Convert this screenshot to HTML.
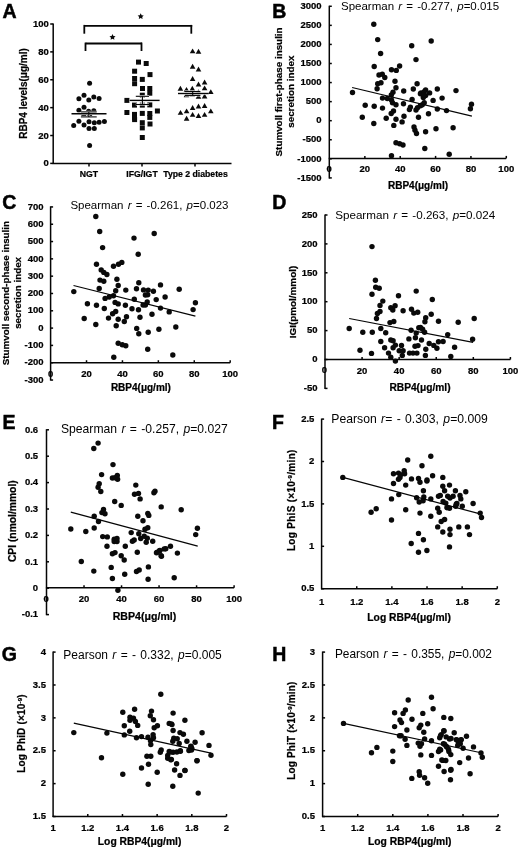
<!DOCTYPE html>
<html><head><meta charset="utf-8"><style>
html,body{margin:0;padding:0;background:#fff;}
svg{display:block;font-family:"Liberation Sans", sans-serif;filter:grayscale(100%);}
</style></head><body>
<svg width="520" height="850" viewBox="0 0 520 850">
<rect width="520" height="850" fill="#fff"/>
<g fill="#0a0a0a">
<text x="2.50" y="18.30" font-size="19.5" font-weight="bold" text-anchor="start" fill="#000" stroke="#000" stroke-width="0.5">A</text>
<line x1="53.20" y1="23.40" x2="53.20" y2="164.00" stroke="#050505" stroke-width="1.5"/>
<line x1="52.60" y1="163.40" x2="231.50" y2="163.40" stroke="#050505" stroke-width="1.5"/>
<line x1="50.20" y1="163.40" x2="53.20" y2="163.40" stroke="#050505" stroke-width="1.5"/>
<text x="48.80" y="166.40" font-size="9.5" font-weight="bold" text-anchor="end" fill="#000" stroke="#000" stroke-width="0.22">0</text>
<line x1="50.20" y1="135.52" x2="53.20" y2="135.52" stroke="#050505" stroke-width="1.5"/>
<text x="48.80" y="138.52" font-size="9.5" font-weight="bold" text-anchor="end" fill="#000" stroke="#000" stroke-width="0.22">20</text>
<line x1="50.20" y1="107.64" x2="53.20" y2="107.64" stroke="#050505" stroke-width="1.5"/>
<text x="48.80" y="110.64" font-size="9.5" font-weight="bold" text-anchor="end" fill="#000" stroke="#000" stroke-width="0.22">40</text>
<line x1="50.20" y1="79.76" x2="53.20" y2="79.76" stroke="#050505" stroke-width="1.5"/>
<text x="48.80" y="82.76" font-size="9.5" font-weight="bold" text-anchor="end" fill="#000" stroke="#000" stroke-width="0.22">60</text>
<line x1="50.20" y1="51.88" x2="53.20" y2="51.88" stroke="#050505" stroke-width="1.5"/>
<text x="48.80" y="54.88" font-size="9.5" font-weight="bold" text-anchor="end" fill="#000" stroke="#000" stroke-width="0.22">80</text>
<line x1="50.20" y1="24.00" x2="53.20" y2="24.00" stroke="#050505" stroke-width="1.5"/>
<text x="48.80" y="27.00" font-size="9.5" font-weight="bold" text-anchor="end" fill="#000" stroke="#000" stroke-width="0.22">100</text>
<line x1="89.00" y1="163.40" x2="89.00" y2="166.40" stroke="#050505" stroke-width="1.5"/>
<text x="89.00" y="176.60" font-size="8.7" font-weight="bold" text-anchor="middle" fill="#000" stroke="#000" stroke-width="0.22">NGT</text>
<line x1="142.00" y1="163.40" x2="142.00" y2="166.40" stroke="#050505" stroke-width="1.5"/>
<text x="142.00" y="176.60" font-size="8.7" font-weight="bold" text-anchor="middle" fill="#000" stroke="#000" stroke-width="0.22">IFG/IGT</text>
<line x1="195.00" y1="163.40" x2="195.00" y2="166.40" stroke="#050505" stroke-width="1.5"/>
<text x="195.50" y="176.60" font-size="8.7" font-weight="bold" text-anchor="middle" fill="#000" stroke="#000" stroke-width="0.22">Type 2 diabetes</text>
<text x="27.20" y="93.50" font-size="10.0" font-weight="bold" text-anchor="middle" fill="#000" transform="rotate(-90 27.20 93.50)" stroke="#000" stroke-width="0.22">RBP4 levels(μg/ml)</text>
<line x1="84.30" y1="25.80" x2="192.20" y2="25.80" stroke="#050505" stroke-width="1.8"/>
<line x1="84.30" y1="24.90" x2="84.30" y2="33.70" stroke="#050505" stroke-width="1.8"/>
<line x1="191.30" y1="24.90" x2="191.30" y2="33.70" stroke="#050505" stroke-width="1.8"/>
<line x1="85.50" y1="43.50" x2="142.00" y2="43.50" stroke="#050505" stroke-width="1.8"/>
<line x1="85.50" y1="42.60" x2="85.50" y2="51.00" stroke="#050505" stroke-width="1.8"/>
<line x1="141.50" y1="42.60" x2="141.50" y2="51.00" stroke="#050505" stroke-width="1.8"/>
<polygon points="140.70,13.30 141.64,15.21 143.74,15.51 142.22,16.99 142.58,19.09 140.70,18.10 138.82,19.09 139.18,16.99 137.66,15.51 139.76,15.21"/>
<polygon points="112.50,34.00 113.44,35.91 115.54,36.21 114.02,37.69 114.38,39.79 112.50,38.80 110.62,39.79 110.98,37.69 109.46,36.21 111.56,35.91"/>
<circle cx="84.0" cy="95.3" r="2.5"/>
<circle cx="78.9" cy="98.8" r="2.5"/>
<circle cx="88.8" cy="100.1" r="2.5"/>
<circle cx="93.8" cy="96.9" r="2.5"/>
<circle cx="99.1" cy="98.5" r="2.5"/>
<circle cx="84.0" cy="107.3" r="2.5"/>
<circle cx="78.9" cy="110.2" r="2.5"/>
<circle cx="88.6" cy="111.2" r="2.5"/>
<circle cx="93.8" cy="110.7" r="2.5"/>
<circle cx="83.8" cy="115.0" r="2.5"/>
<circle cx="89.6" cy="115.6" r="2.5"/>
<circle cx="78.9" cy="121.3" r="2.5"/>
<circle cx="89.0" cy="121.7" r="2.5"/>
<circle cx="94.3" cy="122.7" r="2.5"/>
<circle cx="99.1" cy="122.2" r="2.5"/>
<circle cx="104.4" cy="121.5" r="2.5"/>
<circle cx="73.7" cy="125.6" r="2.5"/>
<circle cx="84.0" cy="125.1" r="2.5"/>
<circle cx="89.0" cy="128.5" r="2.5"/>
<circle cx="94.3" cy="128.5" r="2.5"/>
<circle cx="89.6" cy="83.3" r="2.5"/>
<circle cx="89.6" cy="145.6" r="2.5"/>
<rect x="136.0" y="59.6" width="5" height="5"/>
<rect x="143.7" y="61.0" width="5" height="5"/>
<rect x="132.1" y="68.7" width="5" height="5"/>
<rect x="147.5" y="72.1" width="5" height="5"/>
<rect x="132.1" y="76.0" width="5" height="5"/>
<rect x="139.8" y="76.9" width="5" height="5"/>
<rect x="132.1" y="81.2" width="5" height="5"/>
<rect x="140.0" y="86.0" width="5" height="5"/>
<rect x="147.3" y="86.0" width="5" height="5"/>
<rect x="147.3" y="90.7" width="5" height="5"/>
<rect x="139.8" y="92.7" width="5" height="5"/>
<rect x="124.4" y="97.9" width="5" height="5"/>
<rect x="132.0" y="102.6" width="5" height="5"/>
<rect x="139.8" y="102.6" width="5" height="5"/>
<rect x="147.3" y="102.4" width="5" height="5"/>
<rect x="124.4" y="110.0" width="5" height="5"/>
<rect x="132.0" y="111.9" width="5" height="5"/>
<rect x="139.8" y="110.9" width="5" height="5"/>
<rect x="147.3" y="111.0" width="5" height="5"/>
<rect x="154.9" y="108.5" width="5" height="5"/>
<rect x="132.0" y="115.4" width="5" height="5"/>
<rect x="147.3" y="114.9" width="5" height="5"/>
<rect x="139.8" y="120.2" width="5" height="5"/>
<rect x="147.5" y="121.5" width="5" height="5"/>
<rect x="139.8" y="125.4" width="5" height="5"/>
<rect x="139.8" y="135.0" width="5" height="5"/>
<rect x="132.1" y="117.1" width="5" height="5"/>
<polygon points="192.6,48.4 195.4,53.3 189.8,53.3"/>
<polygon points="198.5,48.8 201.3,53.7 195.7,53.7"/>
<polygon points="192.6,63.8 195.4,68.7 189.8,68.7"/>
<polygon points="198.5,66.5 201.3,71.4 195.7,71.4"/>
<polygon points="192.6,76.1 195.4,81.0 189.8,81.0"/>
<polygon points="198.5,81.5 201.3,86.4 195.7,86.4"/>
<polygon points="204.6,79.6 207.4,84.5 201.8,84.5"/>
<polygon points="180.4,85.8 183.2,90.7 177.6,90.7"/>
<polygon points="186.5,86.9 189.3,91.8 183.7,91.8"/>
<polygon points="192.3,85.8 195.1,90.7 189.5,90.7"/>
<polygon points="204.6,85.4 207.4,90.3 201.8,90.3"/>
<polygon points="210.8,89.2 213.6,94.1 208.0,94.1"/>
<polygon points="186.5,92.3 189.3,97.2 183.7,97.2"/>
<polygon points="192.3,91.5 195.1,96.4 189.5,96.4"/>
<polygon points="198.5,89.2 201.3,94.1 195.7,94.1"/>
<polygon points="198.5,93.8 201.3,98.7 195.7,98.7"/>
<polygon points="204.6,93.5 207.4,98.4 201.8,98.4"/>
<polygon points="192.6,105.0 195.4,109.9 189.8,109.9"/>
<polygon points="198.5,103.5 201.3,108.4 195.7,108.4"/>
<polygon points="204.6,103.1 207.4,108.0 201.8,108.0"/>
<polygon points="180.5,109.9 183.3,114.8 177.7,114.8"/>
<polygon points="186.6,108.4 189.4,113.3 183.8,113.3"/>
<polygon points="210.8,108.4 213.6,113.3 208.0,113.3"/>
<polygon points="192.6,111.9 195.4,116.8 189.8,116.8"/>
<polygon points="198.5,113.0 201.3,117.9 195.7,117.9"/>
<polygon points="204.6,111.9 207.4,116.8 201.8,116.8"/>
<polygon points="186.6,115.8 189.4,120.7 183.8,120.7"/>
<line x1="71.50" y1="113.75" x2="106.50" y2="113.75" stroke="#fff" stroke-width="2.4"/>
<line x1="80.90" y1="111.90" x2="96.70" y2="111.90" stroke="#fff" stroke-width="2.1"/>
<line x1="80.90" y1="116.90" x2="96.70" y2="116.90" stroke="#fff" stroke-width="2.1"/>
<line x1="88.80" y1="111.90" x2="88.80" y2="116.90" stroke="#fff" stroke-width="2.1"/>
<line x1="71.50" y1="113.75" x2="106.50" y2="113.75" stroke="#050505" stroke-width="1.4"/>
<line x1="80.90" y1="111.90" x2="96.70" y2="111.90" stroke="#050505" stroke-width="1.1"/>
<line x1="80.90" y1="116.90" x2="96.70" y2="116.90" stroke="#050505" stroke-width="1.1"/>
<line x1="88.80" y1="111.90" x2="88.80" y2="116.90" stroke="#050505" stroke-width="1.1"/>
<line x1="129.60" y1="100.40" x2="159.60" y2="100.40" stroke="#fff" stroke-width="2.4"/>
<line x1="135.80" y1="96.30" x2="149.00" y2="96.30" stroke="#fff" stroke-width="2.1"/>
<line x1="135.80" y1="104.50" x2="149.00" y2="104.50" stroke="#fff" stroke-width="2.1"/>
<line x1="142.40" y1="96.30" x2="142.40" y2="104.50" stroke="#fff" stroke-width="2.1"/>
<line x1="129.60" y1="100.40" x2="159.60" y2="100.40" stroke="#050505" stroke-width="1.4"/>
<line x1="135.80" y1="96.30" x2="149.00" y2="96.30" stroke="#050505" stroke-width="1.1"/>
<line x1="135.80" y1="104.50" x2="149.00" y2="104.50" stroke="#050505" stroke-width="1.1"/>
<line x1="142.40" y1="96.30" x2="142.40" y2="104.50" stroke="#050505" stroke-width="1.1"/>
<line x1="178.00" y1="93.50" x2="208.80" y2="93.50" stroke="#fff" stroke-width="2.4"/>
<line x1="185.00" y1="91.50" x2="200.40" y2="91.50" stroke="#fff" stroke-width="2.1"/>
<line x1="185.00" y1="95.40" x2="200.40" y2="95.40" stroke="#fff" stroke-width="2.1"/>
<line x1="192.70" y1="91.50" x2="192.70" y2="95.40" stroke="#fff" stroke-width="2.1"/>
<line x1="178.00" y1="93.50" x2="208.80" y2="93.50" stroke="#050505" stroke-width="1.4"/>
<line x1="185.00" y1="91.50" x2="200.40" y2="91.50" stroke="#050505" stroke-width="1.1"/>
<line x1="185.00" y1="95.40" x2="200.40" y2="95.40" stroke="#050505" stroke-width="1.1"/>
<line x1="192.70" y1="91.50" x2="192.70" y2="95.40" stroke="#050505" stroke-width="1.1"/>
<text x="272.30" y="18.30" font-size="19.5" font-weight="bold" text-anchor="start" fill="#000" stroke="#000" stroke-width="0.5">B</text>
<line x1="329.30" y1="5.70" x2="329.30" y2="178.60" stroke="#050505" stroke-width="1.5"/>
<line x1="328.70" y1="158.40" x2="506.20" y2="158.40" stroke="#050505" stroke-width="1.5"/>
<line x1="329.30" y1="177.91" x2="331.80" y2="177.91" stroke="#050505" stroke-width="1.5"/>
<text x="321.60" y="180.61" font-size="9.5" font-weight="bold" text-anchor="end" fill="#000" stroke="#000" stroke-width="0.22">-1500</text>
<line x1="329.30" y1="158.84" x2="331.80" y2="158.84" stroke="#050505" stroke-width="1.5"/>
<text x="321.60" y="161.54" font-size="9.5" font-weight="bold" text-anchor="end" fill="#000" stroke="#000" stroke-width="0.22">-1000</text>
<line x1="329.30" y1="139.77" x2="331.80" y2="139.77" stroke="#050505" stroke-width="1.5"/>
<text x="321.60" y="142.47" font-size="9.5" font-weight="bold" text-anchor="end" fill="#000" stroke="#000" stroke-width="0.22">-500</text>
<line x1="329.30" y1="120.70" x2="331.80" y2="120.70" stroke="#050505" stroke-width="1.5"/>
<text x="321.60" y="123.40" font-size="9.5" font-weight="bold" text-anchor="end" fill="#000" stroke="#000" stroke-width="0.22">0</text>
<line x1="329.30" y1="101.63" x2="331.80" y2="101.63" stroke="#050505" stroke-width="1.5"/>
<text x="321.60" y="104.33" font-size="9.5" font-weight="bold" text-anchor="end" fill="#000" stroke="#000" stroke-width="0.22">500</text>
<line x1="329.30" y1="82.56" x2="331.80" y2="82.56" stroke="#050505" stroke-width="1.5"/>
<text x="321.60" y="85.26" font-size="9.5" font-weight="bold" text-anchor="end" fill="#000" stroke="#000" stroke-width="0.22">1000</text>
<line x1="329.30" y1="63.49" x2="331.80" y2="63.49" stroke="#050505" stroke-width="1.5"/>
<text x="321.60" y="66.19" font-size="9.5" font-weight="bold" text-anchor="end" fill="#000" stroke="#000" stroke-width="0.22">1500</text>
<line x1="329.30" y1="44.42" x2="331.80" y2="44.42" stroke="#050505" stroke-width="1.5"/>
<text x="321.60" y="47.12" font-size="9.5" font-weight="bold" text-anchor="end" fill="#000" stroke="#000" stroke-width="0.22">2000</text>
<line x1="329.30" y1="25.35" x2="331.80" y2="25.35" stroke="#050505" stroke-width="1.5"/>
<text x="321.60" y="28.05" font-size="9.5" font-weight="bold" text-anchor="end" fill="#000" stroke="#000" stroke-width="0.22">2500</text>
<line x1="329.30" y1="6.28" x2="331.80" y2="6.28" stroke="#050505" stroke-width="1.5"/>
<text x="321.60" y="8.98" font-size="9.5" font-weight="bold" text-anchor="end" fill="#000" stroke="#000" stroke-width="0.22">3000</text>
<line x1="364.86" y1="158.40" x2="364.86" y2="155.90" stroke="#050505" stroke-width="1.5"/>
<line x1="400.22" y1="158.40" x2="400.22" y2="155.90" stroke="#050505" stroke-width="1.5"/>
<line x1="435.58" y1="158.40" x2="435.58" y2="155.90" stroke="#050505" stroke-width="1.5"/>
<line x1="470.94" y1="158.40" x2="470.94" y2="155.90" stroke="#050505" stroke-width="1.5"/>
<line x1="506.30" y1="158.40" x2="506.30" y2="155.90" stroke="#050505" stroke-width="1.5"/>
<text x="364.86" y="172.20" font-size="9.5" font-weight="bold" text-anchor="middle" fill="#000" stroke="#000" stroke-width="0.22">20</text>
<text x="400.22" y="172.20" font-size="9.5" font-weight="bold" text-anchor="middle" fill="#000" stroke="#000" stroke-width="0.22">40</text>
<text x="435.58" y="172.20" font-size="9.5" font-weight="bold" text-anchor="middle" fill="#000" stroke="#000" stroke-width="0.22">60</text>
<text x="470.94" y="172.20" font-size="9.5" font-weight="bold" text-anchor="middle" fill="#000" stroke="#000" stroke-width="0.22">80</text>
<text x="506.30" y="172.20" font-size="9.5" font-weight="bold" text-anchor="middle" fill="#000" stroke="#000" stroke-width="0.22">100</text>
<circle cx="373.8" cy="24.2" r="2.7"/>
<circle cx="377.7" cy="39.6" r="2.7"/>
<circle cx="380.6" cy="53.5" r="2.7"/>
<circle cx="374.2" cy="66.5" r="2.7"/>
<circle cx="379.0" cy="75.0" r="2.7"/>
<circle cx="382.3" cy="74.2" r="2.7"/>
<circle cx="384.8" cy="77.5" r="2.7"/>
<circle cx="377.7" cy="83.8" r="2.7"/>
<circle cx="381.0" cy="82.7" r="2.7"/>
<circle cx="377.1" cy="88.7" r="2.7"/>
<circle cx="391.5" cy="69.8" r="2.7"/>
<circle cx="396.3" cy="70.4" r="2.7"/>
<circle cx="399.6" cy="66.0" r="2.7"/>
<circle cx="395.0" cy="81.3" r="2.7"/>
<circle cx="396.0" cy="87.7" r="2.7"/>
<circle cx="393.0" cy="92.3" r="2.7"/>
<circle cx="391.3" cy="95.0" r="2.7"/>
<circle cx="403.7" cy="91.0" r="2.7"/>
<circle cx="411.7" cy="45.8" r="2.7"/>
<circle cx="416.0" cy="59.6" r="2.7"/>
<circle cx="417.1" cy="83.8" r="2.7"/>
<circle cx="413.3" cy="89.0" r="2.7"/>
<circle cx="421.0" cy="92.9" r="2.7"/>
<circle cx="425.6" cy="90.0" r="2.7"/>
<circle cx="431.2" cy="41.0" r="2.7"/>
<circle cx="352.5" cy="92.5" r="2.7"/>
<circle cx="437.3" cy="89.0" r="2.7"/>
<circle cx="456.0" cy="90.6" r="2.7"/>
<circle cx="429.6" cy="92.9" r="2.7"/>
<circle cx="382.5" cy="98.1" r="2.7"/>
<circle cx="387.3" cy="98.5" r="2.7"/>
<circle cx="391.5" cy="100.0" r="2.7"/>
<circle cx="392.5" cy="102.7" r="2.7"/>
<circle cx="396.0" cy="104.8" r="2.7"/>
<circle cx="403.5" cy="103.8" r="2.7"/>
<circle cx="412.1" cy="99.4" r="2.7"/>
<circle cx="420.4" cy="93.7" r="2.7"/>
<circle cx="424.2" cy="91.7" r="2.7"/>
<circle cx="425.6" cy="95.6" r="2.7"/>
<circle cx="423.3" cy="97.5" r="2.7"/>
<circle cx="424.2" cy="102.7" r="2.7"/>
<circle cx="420.4" cy="105.8" r="2.7"/>
<circle cx="422.3" cy="104.8" r="2.7"/>
<circle cx="365.2" cy="105.2" r="2.7"/>
<circle cx="374.2" cy="106.2" r="2.7"/>
<circle cx="382.5" cy="108.1" r="2.7"/>
<circle cx="393.5" cy="111.0" r="2.7"/>
<circle cx="391.2" cy="113.5" r="2.7"/>
<circle cx="410.4" cy="107.1" r="2.7"/>
<circle cx="409.4" cy="109.6" r="2.7"/>
<circle cx="416.0" cy="110.0" r="2.7"/>
<circle cx="417.5" cy="107.7" r="2.7"/>
<circle cx="428.5" cy="113.8" r="2.7"/>
<circle cx="362.3" cy="117.3" r="2.7"/>
<circle cx="386.2" cy="118.3" r="2.7"/>
<circle cx="396.0" cy="119.2" r="2.7"/>
<circle cx="404.0" cy="116.3" r="2.7"/>
<circle cx="402.1" cy="121.9" r="2.7"/>
<circle cx="418.5" cy="117.3" r="2.7"/>
<circle cx="373.8" cy="123.5" r="2.7"/>
<circle cx="393.8" cy="125.4" r="2.7"/>
<circle cx="414.0" cy="126.9" r="2.7"/>
<circle cx="415.0" cy="130.2" r="2.7"/>
<circle cx="416.5" cy="133.5" r="2.7"/>
<circle cx="425.6" cy="131.7" r="2.7"/>
<circle cx="396.0" cy="142.7" r="2.7"/>
<circle cx="399.6" cy="143.7" r="2.7"/>
<circle cx="403.0" cy="145.0" r="2.7"/>
<circle cx="424.8" cy="148.5" r="2.7"/>
<circle cx="391.5" cy="155.8" r="2.7"/>
<circle cx="423.8" cy="94.6" r="2.7"/>
<circle cx="433.1" cy="100.4" r="2.7"/>
<circle cx="442.1" cy="98.1" r="2.7"/>
<circle cx="437.3" cy="109.0" r="2.7"/>
<circle cx="446.5" cy="110.6" r="2.7"/>
<circle cx="471.5" cy="104.2" r="2.7"/>
<circle cx="470.4" cy="108.7" r="2.7"/>
<circle cx="436.0" cy="128.8" r="2.7"/>
<circle cx="453.1" cy="127.7" r="2.7"/>
<circle cx="449.2" cy="154.2" r="2.7"/>
<line x1="352.10" y1="87.50" x2="471.90" y2="116.20" stroke="#050505" stroke-width="1.2"/>
<text x="341" y="10" font-size="11.5" fill="#000" word-spacing="1">Spearman <tspan font-style="italic">r</tspan> = -0.277, <tspan font-style="italic">p</tspan>=<tspan>0.015</tspan></text>
<text x="282.20" y="91.90" font-size="9.85" font-weight="bold" text-anchor="middle" fill="#000" transform="rotate(-90 282.20 91.90)" stroke="#000" stroke-width="0.22">Stumvoll first-phase insulin</text>
<text x="293.80" y="91.70" font-size="9.85" font-weight="bold" text-anchor="middle" fill="#000" transform="rotate(-90 293.80 91.70)" stroke="#000" stroke-width="0.22">secretion index</text>
<text x="418.00" y="189.20" font-size="10" font-weight="bold" text-anchor="middle" fill="#000" stroke="#000" stroke-width="0.22">RBP4(μg/ml)</text>
<text x="329.20" y="172.20" font-size="9.5" font-weight="bold" text-anchor="middle" fill="#000" stroke="#000" stroke-width="0.22">0</text>
<text x="2.30" y="208.80" font-size="19.5" font-weight="bold" text-anchor="start" fill="#000" stroke="#000" stroke-width="0.5">C</text>
<line x1="50.60" y1="206.30" x2="50.60" y2="380.60" stroke="#050505" stroke-width="1.5"/>
<line x1="50.00" y1="362.72" x2="230.20" y2="362.72" stroke="#050505" stroke-width="1.5"/>
<line x1="50.60" y1="380.03" x2="53.10" y2="380.03" stroke="#050505" stroke-width="1.5"/>
<text x="43.50" y="382.73" font-size="9.5" font-weight="bold" text-anchor="end" fill="#000" stroke="#000" stroke-width="0.22">-300</text>
<line x1="50.60" y1="362.72" x2="53.10" y2="362.72" stroke="#050505" stroke-width="1.5"/>
<text x="43.50" y="365.42" font-size="9.5" font-weight="bold" text-anchor="end" fill="#000" stroke="#000" stroke-width="0.22">-200</text>
<line x1="50.60" y1="345.41" x2="53.10" y2="345.41" stroke="#050505" stroke-width="1.5"/>
<text x="43.50" y="348.11" font-size="9.5" font-weight="bold" text-anchor="end" fill="#000" stroke="#000" stroke-width="0.22">-100</text>
<line x1="50.60" y1="328.10" x2="53.10" y2="328.10" stroke="#050505" stroke-width="1.5"/>
<text x="43.50" y="330.80" font-size="9.5" font-weight="bold" text-anchor="end" fill="#000" stroke="#000" stroke-width="0.22">0</text>
<line x1="50.60" y1="310.79" x2="53.10" y2="310.79" stroke="#050505" stroke-width="1.5"/>
<text x="43.50" y="313.49" font-size="9.5" font-weight="bold" text-anchor="end" fill="#000" stroke="#000" stroke-width="0.22">100</text>
<line x1="50.60" y1="293.48" x2="53.10" y2="293.48" stroke="#050505" stroke-width="1.5"/>
<text x="43.50" y="296.18" font-size="9.5" font-weight="bold" text-anchor="end" fill="#000" stroke="#000" stroke-width="0.22">200</text>
<line x1="50.60" y1="276.17" x2="53.10" y2="276.17" stroke="#050505" stroke-width="1.5"/>
<text x="43.50" y="278.87" font-size="9.5" font-weight="bold" text-anchor="end" fill="#000" stroke="#000" stroke-width="0.22">300</text>
<line x1="50.60" y1="258.86" x2="53.10" y2="258.86" stroke="#050505" stroke-width="1.5"/>
<text x="43.50" y="261.56" font-size="9.5" font-weight="bold" text-anchor="end" fill="#000" stroke="#000" stroke-width="0.22">400</text>
<line x1="50.60" y1="241.55" x2="53.10" y2="241.55" stroke="#050505" stroke-width="1.5"/>
<text x="43.50" y="244.25" font-size="9.5" font-weight="bold" text-anchor="end" fill="#000" stroke="#000" stroke-width="0.22">500</text>
<line x1="50.60" y1="224.24" x2="53.10" y2="224.24" stroke="#050505" stroke-width="1.5"/>
<text x="43.50" y="226.94" font-size="9.5" font-weight="bold" text-anchor="end" fill="#000" stroke="#000" stroke-width="0.22">600</text>
<line x1="50.60" y1="206.93" x2="53.10" y2="206.93" stroke="#050505" stroke-width="1.5"/>
<text x="43.50" y="209.63" font-size="9.5" font-weight="bold" text-anchor="end" fill="#000" stroke="#000" stroke-width="0.22">700</text>
<line x1="86.52" y1="362.72" x2="86.52" y2="360.22" stroke="#050505" stroke-width="1.5"/>
<line x1="122.44" y1="362.72" x2="122.44" y2="360.22" stroke="#050505" stroke-width="1.5"/>
<line x1="158.36" y1="362.72" x2="158.36" y2="360.22" stroke="#050505" stroke-width="1.5"/>
<line x1="194.28" y1="362.72" x2="194.28" y2="360.22" stroke="#050505" stroke-width="1.5"/>
<line x1="230.20" y1="362.72" x2="230.20" y2="360.22" stroke="#050505" stroke-width="1.5"/>
<text x="86.52" y="376.50" font-size="9.5" font-weight="bold" text-anchor="middle" fill="#000" stroke="#000" stroke-width="0.22">20</text>
<text x="122.44" y="376.50" font-size="9.5" font-weight="bold" text-anchor="middle" fill="#000" stroke="#000" stroke-width="0.22">40</text>
<text x="158.36" y="376.50" font-size="9.5" font-weight="bold" text-anchor="middle" fill="#000" stroke="#000" stroke-width="0.22">60</text>
<text x="194.28" y="376.50" font-size="9.5" font-weight="bold" text-anchor="middle" fill="#000" stroke="#000" stroke-width="0.22">80</text>
<text x="230.20" y="376.50" font-size="9.5" font-weight="bold" text-anchor="middle" fill="#000" stroke="#000" stroke-width="0.22">100</text>
<circle cx="95.8" cy="216.5" r="2.7"/>
<circle cx="99.7" cy="231.5" r="2.7"/>
<circle cx="102.6" cy="247.6" r="2.7"/>
<circle cx="134.0" cy="238.1" r="2.7"/>
<circle cx="138.2" cy="254.2" r="2.7"/>
<circle cx="96.5" cy="264.2" r="2.7"/>
<circle cx="113.5" cy="266.2" r="2.7"/>
<circle cx="118.5" cy="264.2" r="2.7"/>
<circle cx="121.8" cy="262.4" r="2.7"/>
<circle cx="101.2" cy="269.9" r="2.7"/>
<circle cx="103.8" cy="272.4" r="2.7"/>
<circle cx="106.9" cy="274.5" r="2.7"/>
<circle cx="100.0" cy="280.1" r="2.7"/>
<circle cx="103.8" cy="281.2" r="2.7"/>
<circle cx="116.9" cy="279.2" r="2.7"/>
<circle cx="118.2" cy="285.5" r="2.7"/>
<circle cx="138.8" cy="282.7" r="2.7"/>
<circle cx="154.2" cy="233.5" r="2.7"/>
<circle cx="160.5" cy="284.9" r="2.7"/>
<circle cx="99.2" cy="288.5" r="2.7"/>
<circle cx="73.8" cy="291.6" r="2.7"/>
<circle cx="115.7" cy="290.8" r="2.7"/>
<circle cx="125.8" cy="290.1" r="2.7"/>
<circle cx="136.5" cy="288.8" r="2.7"/>
<circle cx="113.5" cy="295.8" r="2.7"/>
<circle cx="109.2" cy="297.0" r="2.7"/>
<circle cx="105.1" cy="298.4" r="2.7"/>
<circle cx="134.3" cy="299.3" r="2.7"/>
<circle cx="87.4" cy="303.8" r="2.7"/>
<circle cx="96.5" cy="305.3" r="2.7"/>
<circle cx="115.1" cy="302.4" r="2.7"/>
<circle cx="118.2" cy="303.9" r="2.7"/>
<circle cx="125.4" cy="305.3" r="2.7"/>
<circle cx="104.3" cy="308.5" r="2.7"/>
<circle cx="132.0" cy="308.8" r="2.7"/>
<circle cx="138.5" cy="309.7" r="2.7"/>
<circle cx="115.7" cy="311.5" r="2.7"/>
<circle cx="112.6" cy="313.8" r="2.7"/>
<circle cx="84.2" cy="318.5" r="2.7"/>
<circle cx="108.5" cy="318.1" r="2.7"/>
<circle cx="118.2" cy="319.2" r="2.7"/>
<circle cx="126.5" cy="316.8" r="2.7"/>
<circle cx="124.3" cy="321.5" r="2.7"/>
<circle cx="140.0" cy="317.3" r="2.7"/>
<circle cx="95.8" cy="324.5" r="2.7"/>
<circle cx="116.2" cy="325.8" r="2.7"/>
<circle cx="136.7" cy="328.4" r="2.7"/>
<circle cx="138.8" cy="333.8" r="2.7"/>
<circle cx="118.2" cy="343.2" r="2.7"/>
<circle cx="122.3" cy="344.7" r="2.7"/>
<circle cx="125.8" cy="345.8" r="2.7"/>
<circle cx="113.8" cy="357.3" r="2.7"/>
<circle cx="143.5" cy="289.9" r="2.7"/>
<circle cx="148.2" cy="290.1" r="2.7"/>
<circle cx="153.4" cy="291.2" r="2.7"/>
<circle cx="179.2" cy="289.3" r="2.7"/>
<circle cx="145.4" cy="295.0" r="2.7"/>
<circle cx="147.7" cy="294.7" r="2.7"/>
<circle cx="165.1" cy="297.0" r="2.7"/>
<circle cx="156.2" cy="299.6" r="2.7"/>
<circle cx="147.2" cy="301.9" r="2.7"/>
<circle cx="143.1" cy="305.0" r="2.7"/>
<circle cx="145.4" cy="305.0" r="2.7"/>
<circle cx="195.4" cy="302.7" r="2.7"/>
<circle cx="160.5" cy="308.1" r="2.7"/>
<circle cx="169.2" cy="311.9" r="2.7"/>
<circle cx="193.1" cy="309.6" r="2.7"/>
<circle cx="152.0" cy="314.2" r="2.7"/>
<circle cx="148.2" cy="332.2" r="2.7"/>
<circle cx="158.9" cy="329.3" r="2.7"/>
<circle cx="175.8" cy="327.0" r="2.7"/>
<circle cx="147.7" cy="349.3" r="2.7"/>
<circle cx="172.8" cy="355.0" r="2.7"/>
<line x1="73.50" y1="285.50" x2="195.40" y2="316.20" stroke="#050505" stroke-width="1.2"/>
<text x="70.4" y="208.8" font-size="11.5" fill="#000" word-spacing="1">Spearman <tspan font-style="italic">r</tspan> = -0.261, <tspan font-style="italic">p</tspan>=<tspan>0.023</tspan></text>
<text x="9.00" y="293.10" font-size="9.8" font-weight="bold" text-anchor="middle" fill="#000" transform="rotate(-90 9.00 293.10)" stroke="#000" stroke-width="0.22">Stumvoll second-phase insulin</text>
<text x="21.00" y="292.90" font-size="9.8" font-weight="bold" text-anchor="middle" fill="#000" transform="rotate(-90 21.00 292.90)" stroke="#000" stroke-width="0.22">secretion index</text>
<text x="140.90" y="391.30" font-size="10" font-weight="bold" text-anchor="middle" fill="#000" stroke="#000" stroke-width="0.22">RBP4(μg/ml)</text>
<text x="50.60" y="376.50" font-size="9.5" font-weight="bold" text-anchor="middle" fill="#000" stroke="#000" stroke-width="0.22">0</text>
<text x="272.30" y="208.80" font-size="19.5" font-weight="bold" text-anchor="start" fill="#000" stroke="#000" stroke-width="0.5">D</text>
<line x1="325.00" y1="214.40" x2="325.00" y2="389.10" stroke="#050505" stroke-width="1.5"/>
<line x1="324.40" y1="359.50" x2="510.40" y2="359.50" stroke="#050505" stroke-width="1.5"/>
<line x1="325.00" y1="388.40" x2="327.50" y2="388.40" stroke="#050505" stroke-width="1.5"/>
<text x="317.60" y="391.10" font-size="9.5" font-weight="bold" text-anchor="end" fill="#000" stroke="#000" stroke-width="0.22">-50</text>
<line x1="325.00" y1="359.50" x2="327.50" y2="359.50" stroke="#050505" stroke-width="1.5"/>
<text x="317.60" y="362.20" font-size="9.5" font-weight="bold" text-anchor="end" fill="#000" stroke="#000" stroke-width="0.22">0</text>
<line x1="325.00" y1="330.60" x2="327.50" y2="330.60" stroke="#050505" stroke-width="1.5"/>
<text x="317.60" y="333.30" font-size="9.5" font-weight="bold" text-anchor="end" fill="#000" stroke="#000" stroke-width="0.22">50</text>
<line x1="325.00" y1="301.70" x2="327.50" y2="301.70" stroke="#050505" stroke-width="1.5"/>
<text x="317.60" y="304.40" font-size="9.5" font-weight="bold" text-anchor="end" fill="#000" stroke="#000" stroke-width="0.22">100</text>
<line x1="325.00" y1="272.80" x2="327.50" y2="272.80" stroke="#050505" stroke-width="1.5"/>
<text x="317.60" y="275.50" font-size="9.5" font-weight="bold" text-anchor="end" fill="#000" stroke="#000" stroke-width="0.22">150</text>
<line x1="325.00" y1="243.90" x2="327.50" y2="243.90" stroke="#050505" stroke-width="1.5"/>
<text x="317.60" y="246.60" font-size="9.5" font-weight="bold" text-anchor="end" fill="#000" stroke="#000" stroke-width="0.22">200</text>
<line x1="325.00" y1="215.00" x2="327.50" y2="215.00" stroke="#050505" stroke-width="1.5"/>
<text x="317.60" y="217.70" font-size="9.5" font-weight="bold" text-anchor="end" fill="#000" stroke="#000" stroke-width="0.22">250</text>
<line x1="362.08" y1="359.50" x2="362.08" y2="357.00" stroke="#050505" stroke-width="1.5"/>
<line x1="399.16" y1="359.50" x2="399.16" y2="357.00" stroke="#050505" stroke-width="1.5"/>
<line x1="436.24" y1="359.50" x2="436.24" y2="357.00" stroke="#050505" stroke-width="1.5"/>
<line x1="473.32" y1="359.50" x2="473.32" y2="357.00" stroke="#050505" stroke-width="1.5"/>
<line x1="510.40" y1="359.50" x2="510.40" y2="357.00" stroke="#050505" stroke-width="1.5"/>
<text x="362.08" y="373.50" font-size="9.5" font-weight="bold" text-anchor="middle" fill="#000" stroke="#000" stroke-width="0.22">20</text>
<text x="399.16" y="373.50" font-size="9.5" font-weight="bold" text-anchor="middle" fill="#000" stroke="#000" stroke-width="0.22">40</text>
<text x="436.24" y="373.50" font-size="9.5" font-weight="bold" text-anchor="middle" fill="#000" stroke="#000" stroke-width="0.22">60</text>
<text x="473.32" y="373.50" font-size="9.5" font-weight="bold" text-anchor="middle" fill="#000" stroke="#000" stroke-width="0.22">80</text>
<text x="510.40" y="373.50" font-size="9.5" font-weight="bold" text-anchor="middle" fill="#000" stroke="#000" stroke-width="0.22">100</text>
<circle cx="372.0" cy="246.6" r="2.7"/>
<circle cx="375.4" cy="280.3" r="2.7"/>
<circle cx="375.7" cy="287.2" r="2.7"/>
<circle cx="379.2" cy="288.2" r="2.7"/>
<circle cx="372.0" cy="294.3" r="2.7"/>
<circle cx="398.5" cy="295.8" r="2.7"/>
<circle cx="416.2" cy="291.1" r="2.7"/>
<circle cx="432.3" cy="299.5" r="2.7"/>
<circle cx="382.8" cy="301.1" r="2.7"/>
<circle cx="380.0" cy="305.4" r="2.7"/>
<circle cx="390.8" cy="307.7" r="2.7"/>
<circle cx="395.1" cy="305.8" r="2.7"/>
<circle cx="392.8" cy="310.0" r="2.7"/>
<circle cx="403.1" cy="310.8" r="2.7"/>
<circle cx="411.5" cy="309.2" r="2.7"/>
<circle cx="413.8" cy="313.1" r="2.7"/>
<circle cx="417.7" cy="312.3" r="2.7"/>
<circle cx="380.0" cy="311.5" r="2.7"/>
<circle cx="377.4" cy="313.5" r="2.7"/>
<circle cx="376.5" cy="318.5" r="2.7"/>
<circle cx="390.0" cy="322.6" r="2.7"/>
<circle cx="393.8" cy="321.5" r="2.7"/>
<circle cx="349.2" cy="328.5" r="2.7"/>
<circle cx="362.8" cy="332.3" r="2.7"/>
<circle cx="372.3" cy="332.3" r="2.7"/>
<circle cx="380.8" cy="328.5" r="2.7"/>
<circle cx="385.7" cy="332.8" r="2.7"/>
<circle cx="411.1" cy="330.3" r="2.7"/>
<circle cx="416.2" cy="333.1" r="2.7"/>
<circle cx="418.8" cy="327.7" r="2.7"/>
<circle cx="380.8" cy="341.5" r="2.7"/>
<circle cx="390.8" cy="340.0" r="2.7"/>
<circle cx="393.1" cy="340.8" r="2.7"/>
<circle cx="408.9" cy="338.9" r="2.7"/>
<circle cx="415.4" cy="337.7" r="2.7"/>
<circle cx="384.6" cy="347.7" r="2.7"/>
<circle cx="393.1" cy="347.7" r="2.7"/>
<circle cx="395.4" cy="345.1" r="2.7"/>
<circle cx="401.5" cy="345.4" r="2.7"/>
<circle cx="399.2" cy="350.8" r="2.7"/>
<circle cx="403.1" cy="350.8" r="2.7"/>
<circle cx="415.0" cy="346.2" r="2.7"/>
<circle cx="418.0" cy="345.6" r="2.7"/>
<circle cx="360.0" cy="350.3" r="2.7"/>
<circle cx="371.5" cy="353.4" r="2.7"/>
<circle cx="388.5" cy="353.1" r="2.7"/>
<circle cx="390.8" cy="357.2" r="2.7"/>
<circle cx="402.3" cy="355.4" r="2.7"/>
<circle cx="409.5" cy="353.1" r="2.7"/>
<circle cx="413.0" cy="353.1" r="2.7"/>
<circle cx="416.9" cy="353.1" r="2.7"/>
<circle cx="395.4" cy="361.1" r="2.7"/>
<circle cx="431.2" cy="314.2" r="2.7"/>
<circle cx="425.7" cy="317.7" r="2.7"/>
<circle cx="424.9" cy="321.8" r="2.7"/>
<circle cx="438.5" cy="321.2" r="2.7"/>
<circle cx="458.2" cy="322.3" r="2.7"/>
<circle cx="474.2" cy="318.5" r="2.7"/>
<circle cx="420.5" cy="327.4" r="2.7"/>
<circle cx="422.6" cy="329.2" r="2.7"/>
<circle cx="424.6" cy="332.3" r="2.7"/>
<circle cx="447.7" cy="334.6" r="2.7"/>
<circle cx="421.5" cy="340.0" r="2.7"/>
<circle cx="472.6" cy="339.2" r="2.7"/>
<circle cx="438.5" cy="341.8" r="2.7"/>
<circle cx="443.1" cy="341.5" r="2.7"/>
<circle cx="429.2" cy="343.5" r="2.7"/>
<circle cx="433.8" cy="345.4" r="2.7"/>
<circle cx="436.9" cy="348.2" r="2.7"/>
<circle cx="454.6" cy="347.2" r="2.7"/>
<circle cx="425.8" cy="349.2" r="2.7"/>
<circle cx="425.4" cy="355.4" r="2.7"/>
<circle cx="450.8" cy="356.5" r="2.7"/>
<line x1="349.20" y1="318.50" x2="473.10" y2="342.30" stroke="#050505" stroke-width="1.2"/>
<text x="335.2" y="219" font-size="11.65" fill="#000" word-spacing="1">Spearman <tspan font-style="italic">r</tspan> = -0.263, <tspan font-style="italic">p</tspan>=<tspan>0.024</tspan></text>
<text x="296.20" y="302.00" font-size="9.9" font-weight="bold" text-anchor="middle" fill="#000" transform="rotate(-90 296.20 302.00)" stroke="#000" stroke-width="0.22">IGI(pmol/mmol)</text>
<text x="420.00" y="390.80" font-size="10.2" font-weight="bold" text-anchor="middle" fill="#000" stroke="#000" stroke-width="0.22">RBP4(μg/ml)</text>
<text x="324.40" y="372.50" font-size="9.5" font-weight="bold" text-anchor="middle" fill="#000" stroke="#000" stroke-width="0.22">0</text>
<text x="2.40" y="429.20" font-size="19.5" font-weight="bold" text-anchor="start" fill="#000" stroke="#000" stroke-width="0.5">E</text>
<line x1="46.50" y1="429.20" x2="46.50" y2="615.20" stroke="#050505" stroke-width="1.5"/>
<line x1="45.90" y1="587.80" x2="234.10" y2="587.80" stroke="#050505" stroke-width="1.5"/>
<line x1="46.50" y1="614.60" x2="49.00" y2="614.60" stroke="#050505" stroke-width="1.5"/>
<text x="38.10" y="617.30" font-size="9.5" font-weight="bold" text-anchor="end" fill="#000" stroke="#000" stroke-width="0.22">-0.1</text>
<line x1="46.50" y1="588.20" x2="49.00" y2="588.20" stroke="#050505" stroke-width="1.5"/>
<text x="38.10" y="590.90" font-size="9.5" font-weight="bold" text-anchor="end" fill="#000" stroke="#000" stroke-width="0.22">0</text>
<line x1="46.50" y1="561.80" x2="49.00" y2="561.80" stroke="#050505" stroke-width="1.5"/>
<text x="38.10" y="564.50" font-size="9.5" font-weight="bold" text-anchor="end" fill="#000" stroke="#000" stroke-width="0.22">0.1</text>
<line x1="46.50" y1="535.40" x2="49.00" y2="535.40" stroke="#050505" stroke-width="1.5"/>
<text x="38.10" y="538.10" font-size="9.5" font-weight="bold" text-anchor="end" fill="#000" stroke="#000" stroke-width="0.22">0.2</text>
<line x1="46.50" y1="509.00" x2="49.00" y2="509.00" stroke="#050505" stroke-width="1.5"/>
<text x="38.10" y="511.70" font-size="9.5" font-weight="bold" text-anchor="end" fill="#000" stroke="#000" stroke-width="0.22">0.3</text>
<line x1="46.50" y1="482.60" x2="49.00" y2="482.60" stroke="#050505" stroke-width="1.5"/>
<text x="38.10" y="485.30" font-size="9.5" font-weight="bold" text-anchor="end" fill="#000" stroke="#000" stroke-width="0.22">0.4</text>
<line x1="46.50" y1="456.20" x2="49.00" y2="456.20" stroke="#050505" stroke-width="1.5"/>
<text x="38.10" y="458.90" font-size="9.5" font-weight="bold" text-anchor="end" fill="#000" stroke="#000" stroke-width="0.22">0.5</text>
<line x1="46.50" y1="429.80" x2="49.00" y2="429.80" stroke="#050505" stroke-width="1.5"/>
<text x="38.10" y="432.50" font-size="9.5" font-weight="bold" text-anchor="end" fill="#000" stroke="#000" stroke-width="0.22">0.6</text>
<line x1="84.02" y1="587.80" x2="84.02" y2="585.30" stroke="#050505" stroke-width="1.5"/>
<line x1="121.54" y1="587.80" x2="121.54" y2="585.30" stroke="#050505" stroke-width="1.5"/>
<line x1="159.06" y1="587.80" x2="159.06" y2="585.30" stroke="#050505" stroke-width="1.5"/>
<line x1="196.58" y1="587.80" x2="196.58" y2="585.30" stroke="#050505" stroke-width="1.5"/>
<line x1="234.10" y1="587.80" x2="234.10" y2="585.30" stroke="#050505" stroke-width="1.5"/>
<text x="84.02" y="602.30" font-size="9.5" font-weight="bold" text-anchor="middle" fill="#000" stroke="#000" stroke-width="0.22">20</text>
<text x="121.54" y="602.30" font-size="9.5" font-weight="bold" text-anchor="middle" fill="#000" stroke="#000" stroke-width="0.22">40</text>
<text x="159.06" y="602.30" font-size="9.5" font-weight="bold" text-anchor="middle" fill="#000" stroke="#000" stroke-width="0.22">60</text>
<text x="196.58" y="602.30" font-size="9.5" font-weight="bold" text-anchor="middle" fill="#000" stroke="#000" stroke-width="0.22">80</text>
<text x="234.10" y="602.30" font-size="9.5" font-weight="bold" text-anchor="middle" fill="#000" stroke="#000" stroke-width="0.22">100</text>
<circle cx="98.1" cy="443.1" r="2.7"/>
<circle cx="93.8" cy="448.5" r="2.7"/>
<circle cx="113.0" cy="464.6" r="2.7"/>
<circle cx="101.6" cy="474.6" r="2.7"/>
<circle cx="117.3" cy="475.4" r="2.7"/>
<circle cx="112.4" cy="478.0" r="2.7"/>
<circle cx="117.6" cy="479.2" r="2.7"/>
<circle cx="115.0" cy="477.7" r="2.7"/>
<circle cx="99.2" cy="483.8" r="2.7"/>
<circle cx="98.1" cy="487.2" r="2.7"/>
<circle cx="100.8" cy="491.5" r="2.7"/>
<circle cx="135.8" cy="485.1" r="2.7"/>
<circle cx="134.5" cy="494.3" r="2.7"/>
<circle cx="138.5" cy="493.4" r="2.7"/>
<circle cx="140.1" cy="498.9" r="2.7"/>
<circle cx="153.9" cy="492.8" r="2.7"/>
<circle cx="155.0" cy="491.2" r="2.7"/>
<circle cx="114.7" cy="501.5" r="2.7"/>
<circle cx="121.2" cy="505.4" r="2.7"/>
<circle cx="161.2" cy="506.9" r="2.7"/>
<circle cx="103.5" cy="509.5" r="2.7"/>
<circle cx="101.9" cy="512.6" r="2.7"/>
<circle cx="105.0" cy="513.8" r="2.7"/>
<circle cx="94.2" cy="516.2" r="2.7"/>
<circle cx="98.5" cy="521.5" r="2.7"/>
<circle cx="137.8" cy="516.2" r="2.7"/>
<circle cx="147.8" cy="513.5" r="2.7"/>
<circle cx="148.8" cy="515.4" r="2.7"/>
<circle cx="143.0" cy="520.8" r="2.7"/>
<circle cx="94.2" cy="528.0" r="2.7"/>
<circle cx="85.8" cy="531.5" r="2.7"/>
<circle cx="145.0" cy="529.2" r="2.7"/>
<circle cx="147.8" cy="527.7" r="2.7"/>
<circle cx="131.2" cy="532.6" r="2.7"/>
<circle cx="138.8" cy="533.8" r="2.7"/>
<circle cx="102.7" cy="536.6" r="2.7"/>
<circle cx="107.3" cy="536.9" r="2.7"/>
<circle cx="114.2" cy="539.2" r="2.7"/>
<circle cx="117.0" cy="538.5" r="2.7"/>
<circle cx="114.2" cy="541.5" r="2.7"/>
<circle cx="117.0" cy="541.5" r="2.7"/>
<circle cx="144.2" cy="536.2" r="2.7"/>
<circle cx="140.7" cy="538.5" r="2.7"/>
<circle cx="147.3" cy="538.2" r="2.7"/>
<circle cx="146.2" cy="542.3" r="2.7"/>
<circle cx="152.7" cy="541.2" r="2.7"/>
<circle cx="132.4" cy="541.2" r="2.7"/>
<circle cx="134.2" cy="540.0" r="2.7"/>
<circle cx="107.0" cy="546.2" r="2.7"/>
<circle cx="125.3" cy="546.2" r="2.7"/>
<circle cx="157.3" cy="552.3" r="2.7"/>
<circle cx="159.9" cy="550.5" r="2.7"/>
<circle cx="161.5" cy="556.2" r="2.7"/>
<circle cx="164.2" cy="548.9" r="2.7"/>
<circle cx="112.4" cy="553.8" r="2.7"/>
<circle cx="115.0" cy="552.6" r="2.7"/>
<circle cx="121.2" cy="555.7" r="2.7"/>
<circle cx="124.2" cy="560.0" r="2.7"/>
<circle cx="137.3" cy="552.3" r="2.7"/>
<circle cx="93.8" cy="571.1" r="2.7"/>
<circle cx="111.2" cy="567.4" r="2.7"/>
<circle cx="136.5" cy="571.5" r="2.7"/>
<circle cx="139.2" cy="570.0" r="2.7"/>
<circle cx="148.4" cy="566.9" r="2.7"/>
<circle cx="112.4" cy="578.5" r="2.7"/>
<circle cx="124.7" cy="574.2" r="2.7"/>
<circle cx="148.1" cy="579.2" r="2.7"/>
<circle cx="70.8" cy="529.0" r="2.7"/>
<circle cx="81.3" cy="561.5" r="2.7"/>
<circle cx="117.9" cy="590.2" r="2.7"/>
<circle cx="174.2" cy="577.8" r="2.7"/>
<circle cx="181.2" cy="509.7" r="2.7"/>
<circle cx="197.4" cy="528.2" r="2.7"/>
<circle cx="195.7" cy="534.6" r="2.7"/>
<circle cx="170.5" cy="546.2" r="2.7"/>
<circle cx="165.8" cy="548.8" r="2.7"/>
<circle cx="159.5" cy="550.8" r="2.7"/>
<circle cx="156.5" cy="552.8" r="2.7"/>
<circle cx="161.1" cy="555.8" r="2.7"/>
<circle cx="177.4" cy="553.1" r="2.7"/>
<line x1="70.80" y1="512.10" x2="197.70" y2="546.20" stroke="#050505" stroke-width="1.2"/>
<text x="61.0" y="433.2" font-size="12.15" fill="#000" word-spacing="1">Spearman <tspan font-style="italic">r</tspan> = -0.257, <tspan font-style="italic">p</tspan>=<tspan>0.027</tspan></text>
<text x="16.20" y="521.20" font-size="10.3" font-weight="bold" text-anchor="middle" fill="#000" transform="rotate(-90 16.20 521.20)" stroke="#000" stroke-width="0.22">CPI (nmol/mmol)</text>
<text x="144.50" y="619.80" font-size="10.6" font-weight="bold" text-anchor="middle" fill="#000" stroke="#000" stroke-width="0.22">RBP4(μg/ml)</text>
<text x="46.20" y="602.30" font-size="9.5" font-weight="bold" text-anchor="middle" fill="#000" stroke="#000" stroke-width="0.22">0</text>
<text x="272.00" y="428.80" font-size="19.5" font-weight="bold" text-anchor="start" fill="#000" stroke="#000" stroke-width="0.5">F</text>
<line x1="321.60" y1="418.60" x2="321.60" y2="589.30" stroke="#050505" stroke-width="1.5"/>
<line x1="321.00" y1="588.70" x2="497.30" y2="588.70" stroke="#050505" stroke-width="1.5"/>
<line x1="321.60" y1="588.70" x2="324.10" y2="588.70" stroke="#050505" stroke-width="1.5"/>
<text x="314.40" y="591.40" font-size="9.5" font-weight="bold" text-anchor="end" fill="#000" stroke="#000" stroke-width="0.22">0.5</text>
<line x1="321.60" y1="546.30" x2="324.10" y2="546.30" stroke="#050505" stroke-width="1.5"/>
<text x="314.40" y="549.00" font-size="9.5" font-weight="bold" text-anchor="end" fill="#000" stroke="#000" stroke-width="0.22">1</text>
<line x1="321.60" y1="503.90" x2="324.10" y2="503.90" stroke="#050505" stroke-width="1.5"/>
<text x="314.40" y="506.60" font-size="9.5" font-weight="bold" text-anchor="end" fill="#000" stroke="#000" stroke-width="0.22">1.5</text>
<line x1="321.60" y1="461.50" x2="324.10" y2="461.50" stroke="#050505" stroke-width="1.5"/>
<text x="314.40" y="464.20" font-size="9.5" font-weight="bold" text-anchor="end" fill="#000" stroke="#000" stroke-width="0.22">2</text>
<line x1="321.60" y1="419.10" x2="324.10" y2="419.10" stroke="#050505" stroke-width="1.5"/>
<text x="314.40" y="421.80" font-size="9.5" font-weight="bold" text-anchor="end" fill="#000" stroke="#000" stroke-width="0.22">2.5</text>
<line x1="356.74" y1="588.70" x2="356.74" y2="586.20" stroke="#050505" stroke-width="1.5"/>
<line x1="391.88" y1="588.70" x2="391.88" y2="586.20" stroke="#050505" stroke-width="1.5"/>
<line x1="427.02" y1="588.70" x2="427.02" y2="586.20" stroke="#050505" stroke-width="1.5"/>
<line x1="462.16" y1="588.70" x2="462.16" y2="586.20" stroke="#050505" stroke-width="1.5"/>
<line x1="497.30" y1="588.70" x2="497.30" y2="586.20" stroke="#050505" stroke-width="1.5"/>
<text x="321.60" y="604.60" font-size="9.5" font-weight="bold" text-anchor="middle" fill="#000" stroke="#000" stroke-width="0.22">1</text>
<text x="356.74" y="604.60" font-size="9.5" font-weight="bold" text-anchor="middle" fill="#000" stroke="#000" stroke-width="0.22">1.2</text>
<text x="391.88" y="604.60" font-size="9.5" font-weight="bold" text-anchor="middle" fill="#000" stroke="#000" stroke-width="0.22">1.4</text>
<text x="427.02" y="604.60" font-size="9.5" font-weight="bold" text-anchor="middle" fill="#000" stroke="#000" stroke-width="0.22">1.6</text>
<text x="462.16" y="604.60" font-size="9.5" font-weight="bold" text-anchor="middle" fill="#000" stroke="#000" stroke-width="0.22">1.8</text>
<text x="497.30" y="604.60" font-size="9.5" font-weight="bold" text-anchor="middle" fill="#000" stroke="#000" stroke-width="0.22">2</text>
<circle cx="342.8" cy="477.4" r="2.7"/>
<circle cx="407.7" cy="460.0" r="2.7"/>
<circle cx="393.5" cy="473.8" r="2.7"/>
<circle cx="398.5" cy="473.1" r="2.7"/>
<circle cx="400.8" cy="474.6" r="2.7"/>
<circle cx="404.2" cy="470.8" r="2.7"/>
<circle cx="404.6" cy="473.8" r="2.7"/>
<circle cx="400.0" cy="477.4" r="2.7"/>
<circle cx="398.5" cy="479.2" r="2.7"/>
<circle cx="393.5" cy="483.5" r="2.7"/>
<circle cx="405.7" cy="485.1" r="2.7"/>
<circle cx="398.8" cy="494.6" r="2.7"/>
<circle cx="391.5" cy="498.9" r="2.7"/>
<circle cx="376.2" cy="508.8" r="2.7"/>
<circle cx="371.1" cy="512.3" r="2.7"/>
<circle cx="405.7" cy="509.7" r="2.7"/>
<circle cx="391.5" cy="520.0" r="2.7"/>
<circle cx="430.8" cy="456.2" r="2.7"/>
<circle cx="422.0" cy="465.8" r="2.7"/>
<circle cx="411.5" cy="478.9" r="2.7"/>
<circle cx="418.5" cy="478.5" r="2.7"/>
<circle cx="420.0" cy="482.3" r="2.7"/>
<circle cx="426.9" cy="481.1" r="2.7"/>
<circle cx="432.6" cy="475.8" r="2.7"/>
<circle cx="442.8" cy="477.4" r="2.7"/>
<circle cx="442.8" cy="486.2" r="2.7"/>
<circle cx="449.5" cy="485.1" r="2.7"/>
<circle cx="423.4" cy="490.8" r="2.7"/>
<circle cx="444.6" cy="490.8" r="2.7"/>
<circle cx="455.4" cy="490.8" r="2.7"/>
<circle cx="465.8" cy="491.8" r="2.7"/>
<circle cx="440.3" cy="495.4" r="2.7"/>
<circle cx="438.5" cy="496.2" r="2.7"/>
<circle cx="447.7" cy="496.2" r="2.7"/>
<circle cx="453.1" cy="496.2" r="2.7"/>
<circle cx="460.0" cy="495.4" r="2.7"/>
<circle cx="460.8" cy="498.9" r="2.7"/>
<circle cx="450.0" cy="498.0" r="2.7"/>
<circle cx="416.6" cy="497.7" r="2.7"/>
<circle cx="423.8" cy="496.9" r="2.7"/>
<circle cx="430.8" cy="498.9" r="2.7"/>
<circle cx="419.2" cy="502.0" r="2.7"/>
<circle cx="423.1" cy="500.8" r="2.7"/>
<circle cx="443.1" cy="501.5" r="2.7"/>
<circle cx="445.8" cy="503.1" r="2.7"/>
<circle cx="456.9" cy="503.5" r="2.7"/>
<circle cx="455.7" cy="506.2" r="2.7"/>
<circle cx="462.3" cy="506.2" r="2.7"/>
<circle cx="473.1" cy="503.5" r="2.7"/>
<circle cx="446.9" cy="507.7" r="2.7"/>
<circle cx="449.5" cy="508.2" r="2.7"/>
<circle cx="437.7" cy="508.2" r="2.7"/>
<circle cx="439.2" cy="512.3" r="2.7"/>
<circle cx="420.0" cy="513.1" r="2.7"/>
<circle cx="430.8" cy="516.2" r="2.7"/>
<circle cx="480.2" cy="513.1" r="2.7"/>
<circle cx="444.6" cy="519.5" r="2.7"/>
<circle cx="441.2" cy="521.5" r="2.7"/>
<circle cx="437.7" cy="526.9" r="2.7"/>
<circle cx="458.8" cy="526.9" r="2.7"/>
<circle cx="467.4" cy="526.9" r="2.7"/>
<circle cx="450.0" cy="529.2" r="2.7"/>
<circle cx="442.8" cy="532.0" r="2.7"/>
<circle cx="450.0" cy="534.6" r="2.7"/>
<circle cx="469.5" cy="534.6" r="2.7"/>
<circle cx="418.5" cy="533.4" r="2.7"/>
<circle cx="423.4" cy="539.7" r="2.7"/>
<circle cx="411.2" cy="543.5" r="2.7"/>
<circle cx="418.5" cy="552.3" r="2.7"/>
<circle cx="426.9" cy="550.5" r="2.7"/>
<circle cx="449.5" cy="546.9" r="2.7"/>
<circle cx="481.5" cy="517.5" r="2.7"/>
<circle cx="427.0" cy="480.0" r="2.7"/>
<circle cx="456.2" cy="504.2" r="2.7"/>
<line x1="342.80" y1="477.40" x2="479.20" y2="513.70" stroke="#050505" stroke-width="1.2"/>
<text x="331.3" y="423.4" font-size="12.2" fill="#000" word-spacing="1">Pearson <tspan font-style="italic">r</tspan>= - 0.303, <tspan font-style="italic">p</tspan>=<tspan>0.009</tspan></text>
<text x="409.10" y="620.60" font-size="10.3" font-weight="bold" text-anchor="middle" fill="#000" stroke="#000" stroke-width="0.22">Log RBP4(μg/ml)</text>
<text x="1.80" y="661.20" font-size="19.5" font-weight="bold" text-anchor="start" fill="#000" stroke="#000" stroke-width="0.5">G</text>
<line x1="53.10" y1="651.50" x2="53.10" y2="817.10" stroke="#050505" stroke-width="1.5"/>
<line x1="52.50" y1="816.50" x2="226.50" y2="816.50" stroke="#050505" stroke-width="1.5"/>
<line x1="53.10" y1="816.50" x2="55.60" y2="816.50" stroke="#050505" stroke-width="1.5"/>
<text x="46.00" y="819.20" font-size="9.5" font-weight="bold" text-anchor="end" fill="#000" stroke="#000" stroke-width="0.22">1.5</text>
<line x1="53.10" y1="783.62" x2="55.60" y2="783.62" stroke="#050505" stroke-width="1.5"/>
<text x="46.00" y="786.32" font-size="9.5" font-weight="bold" text-anchor="end" fill="#000" stroke="#000" stroke-width="0.22">2</text>
<line x1="53.10" y1="750.74" x2="55.60" y2="750.74" stroke="#050505" stroke-width="1.5"/>
<text x="46.00" y="753.44" font-size="9.5" font-weight="bold" text-anchor="end" fill="#000" stroke="#000" stroke-width="0.22">2.5</text>
<line x1="53.10" y1="717.86" x2="55.60" y2="717.86" stroke="#050505" stroke-width="1.5"/>
<text x="46.00" y="720.56" font-size="9.5" font-weight="bold" text-anchor="end" fill="#000" stroke="#000" stroke-width="0.22">3</text>
<line x1="53.10" y1="684.98" x2="55.60" y2="684.98" stroke="#050505" stroke-width="1.5"/>
<text x="46.00" y="687.68" font-size="9.5" font-weight="bold" text-anchor="end" fill="#000" stroke="#000" stroke-width="0.22">3.5</text>
<line x1="53.10" y1="652.10" x2="55.60" y2="652.10" stroke="#050505" stroke-width="1.5"/>
<text x="46.00" y="654.80" font-size="9.5" font-weight="bold" text-anchor="end" fill="#000" stroke="#000" stroke-width="0.22">4</text>
<line x1="87.78" y1="816.50" x2="87.78" y2="814.00" stroke="#050505" stroke-width="1.5"/>
<line x1="122.46" y1="816.50" x2="122.46" y2="814.00" stroke="#050505" stroke-width="1.5"/>
<line x1="157.14" y1="816.50" x2="157.14" y2="814.00" stroke="#050505" stroke-width="1.5"/>
<line x1="191.82" y1="816.50" x2="191.82" y2="814.00" stroke="#050505" stroke-width="1.5"/>
<line x1="226.50" y1="816.50" x2="226.50" y2="814.00" stroke="#050505" stroke-width="1.5"/>
<text x="53.10" y="831.00" font-size="9.5" font-weight="bold" text-anchor="middle" fill="#000" stroke="#000" stroke-width="0.22">1</text>
<text x="87.78" y="831.00" font-size="9.5" font-weight="bold" text-anchor="middle" fill="#000" stroke="#000" stroke-width="0.22">1.2</text>
<text x="122.46" y="831.00" font-size="9.5" font-weight="bold" text-anchor="middle" fill="#000" stroke="#000" stroke-width="0.22">1.4</text>
<text x="157.14" y="831.00" font-size="9.5" font-weight="bold" text-anchor="middle" fill="#000" stroke="#000" stroke-width="0.22">1.6</text>
<text x="191.82" y="831.00" font-size="9.5" font-weight="bold" text-anchor="middle" fill="#000" stroke="#000" stroke-width="0.22">1.8</text>
<text x="226.50" y="831.00" font-size="9.5" font-weight="bold" text-anchor="middle" fill="#000" stroke="#000" stroke-width="0.22">2</text>
<circle cx="73.8" cy="732.6" r="2.7"/>
<circle cx="106.9" cy="733.1" r="2.7"/>
<circle cx="122.8" cy="712.3" r="2.7"/>
<circle cx="134.6" cy="709.2" r="2.7"/>
<circle cx="130.0" cy="717.2" r="2.7"/>
<circle cx="133.5" cy="718.2" r="2.7"/>
<circle cx="130.0" cy="720.3" r="2.7"/>
<circle cx="135.4" cy="721.5" r="2.7"/>
<circle cx="137.7" cy="725.4" r="2.7"/>
<circle cx="124.3" cy="725.8" r="2.7"/>
<circle cx="129.7" cy="731.2" r="2.7"/>
<circle cx="124.3" cy="734.9" r="2.7"/>
<circle cx="136.5" cy="737.7" r="2.7"/>
<circle cx="101.5" cy="757.7" r="2.7"/>
<circle cx="160.8" cy="694.2" r="2.7"/>
<circle cx="151.5" cy="711.1" r="2.7"/>
<circle cx="150.3" cy="715.7" r="2.7"/>
<circle cx="153.5" cy="719.7" r="2.7"/>
<circle cx="141.5" cy="736.6" r="2.7"/>
<circle cx="148.0" cy="737.2" r="2.7"/>
<circle cx="153.1" cy="734.6" r="2.7"/>
<circle cx="153.5" cy="737.7" r="2.7"/>
<circle cx="150.5" cy="740.8" r="2.7"/>
<circle cx="150.8" cy="744.6" r="2.7"/>
<circle cx="154.2" cy="727.7" r="2.7"/>
<circle cx="157.4" cy="725.8" r="2.7"/>
<circle cx="173.1" cy="713.1" r="2.7"/>
<circle cx="184.9" cy="720.3" r="2.7"/>
<circle cx="169.2" cy="723.4" r="2.7"/>
<circle cx="172.0" cy="724.6" r="2.7"/>
<circle cx="173.1" cy="730.5" r="2.7"/>
<circle cx="180.0" cy="732.6" r="2.7"/>
<circle cx="183.4" cy="734.2" r="2.7"/>
<circle cx="173.8" cy="738.2" r="2.7"/>
<circle cx="177.2" cy="738.8" r="2.7"/>
<circle cx="172.8" cy="741.2" r="2.7"/>
<circle cx="179.2" cy="743.4" r="2.7"/>
<circle cx="186.9" cy="741.2" r="2.7"/>
<circle cx="195.1" cy="742.3" r="2.7"/>
<circle cx="190.8" cy="746.2" r="2.7"/>
<circle cx="188.9" cy="750.5" r="2.7"/>
<circle cx="191.5" cy="750.0" r="2.7"/>
<circle cx="161.2" cy="750.0" r="2.7"/>
<circle cx="160.3" cy="752.3" r="2.7"/>
<circle cx="169.2" cy="751.5" r="2.7"/>
<circle cx="173.1" cy="752.3" r="2.7"/>
<circle cx="176.9" cy="752.0" r="2.7"/>
<circle cx="180.3" cy="750.8" r="2.7"/>
<circle cx="167.7" cy="755.4" r="2.7"/>
<circle cx="146.9" cy="756.2" r="2.7"/>
<circle cx="150.8" cy="756.2" r="2.7"/>
<circle cx="167.7" cy="758.2" r="2.7"/>
<circle cx="170.8" cy="759.7" r="2.7"/>
<circle cx="148.5" cy="764.2" r="2.7"/>
<circle cx="141.5" cy="768.0" r="2.7"/>
<circle cx="122.8" cy="774.2" r="2.7"/>
<circle cx="157.2" cy="772.3" r="2.7"/>
<circle cx="176.6" cy="763.8" r="2.7"/>
<circle cx="174.6" cy="770.0" r="2.7"/>
<circle cx="184.9" cy="770.5" r="2.7"/>
<circle cx="180.0" cy="775.4" r="2.7"/>
<circle cx="196.9" cy="760.8" r="2.7"/>
<circle cx="148.2" cy="784.3" r="2.7"/>
<circle cx="172.8" cy="786.2" r="2.7"/>
<circle cx="198.2" cy="793.1" r="2.7"/>
<circle cx="191.1" cy="746.9" r="2.7"/>
<circle cx="202.1" cy="732.7" r="2.7"/>
<circle cx="209.0" cy="745.4" r="2.7"/>
<circle cx="191.9" cy="748.8" r="2.7"/>
<circle cx="211.0" cy="755.2" r="2.7"/>
<circle cx="171.4" cy="759.5" r="2.7"/>
<circle cx="197.1" cy="760.6" r="2.7"/>
<circle cx="185.0" cy="770.4" r="2.7"/>
<circle cx="171.4" cy="724.0" r="2.7"/>
<circle cx="170.6" cy="752.1" r="2.7"/>
<circle cx="180.4" cy="751.2" r="2.7"/>
<line x1="73.80" y1="723.10" x2="211.00" y2="753.20" stroke="#050505" stroke-width="1.2"/>
<text x="63.3" y="658.7" font-size="12" fill="#000" word-spacing="1">Pearson <tspan font-style="italic">r</tspan> = - 0.332, <tspan font-style="italic">p</tspan>=<tspan>0.005</tspan></text>
<text x="139.60" y="845.40" font-size="10.3" font-weight="bold" text-anchor="middle" fill="#000" stroke="#000" stroke-width="0.22">Log RBP4(μg/ml)</text>
<text x="272.30" y="660.80" font-size="19.5" font-weight="bold" text-anchor="start" fill="#000" stroke="#000" stroke-width="0.5">H</text>
<line x1="322.60" y1="651.50" x2="322.60" y2="817.10" stroke="#050505" stroke-width="1.5"/>
<line x1="322.00" y1="816.50" x2="498.10" y2="816.50" stroke="#050505" stroke-width="1.5"/>
<line x1="322.60" y1="816.50" x2="325.10" y2="816.50" stroke="#050505" stroke-width="1.5"/>
<text x="315.00" y="819.20" font-size="9.5" font-weight="bold" text-anchor="end" fill="#000" stroke="#000" stroke-width="0.22">0.5</text>
<line x1="322.60" y1="783.62" x2="325.10" y2="783.62" stroke="#050505" stroke-width="1.5"/>
<text x="315.00" y="786.32" font-size="9.5" font-weight="bold" text-anchor="end" fill="#000" stroke="#000" stroke-width="0.22">1</text>
<line x1="322.60" y1="750.74" x2="325.10" y2="750.74" stroke="#050505" stroke-width="1.5"/>
<text x="315.00" y="753.44" font-size="9.5" font-weight="bold" text-anchor="end" fill="#000" stroke="#000" stroke-width="0.22">1.5</text>
<line x1="322.60" y1="717.86" x2="325.10" y2="717.86" stroke="#050505" stroke-width="1.5"/>
<text x="315.00" y="720.56" font-size="9.5" font-weight="bold" text-anchor="end" fill="#000" stroke="#000" stroke-width="0.22">2</text>
<line x1="322.60" y1="684.98" x2="325.10" y2="684.98" stroke="#050505" stroke-width="1.5"/>
<text x="315.00" y="687.68" font-size="9.5" font-weight="bold" text-anchor="end" fill="#000" stroke="#000" stroke-width="0.22">2.5</text>
<line x1="322.60" y1="652.10" x2="325.10" y2="652.10" stroke="#050505" stroke-width="1.5"/>
<text x="315.00" y="654.80" font-size="9.5" font-weight="bold" text-anchor="end" fill="#000" stroke="#000" stroke-width="0.22">3</text>
<line x1="357.70" y1="816.50" x2="357.70" y2="814.00" stroke="#050505" stroke-width="1.5"/>
<line x1="392.80" y1="816.50" x2="392.80" y2="814.00" stroke="#050505" stroke-width="1.5"/>
<line x1="427.90" y1="816.50" x2="427.90" y2="814.00" stroke="#050505" stroke-width="1.5"/>
<line x1="463.00" y1="816.50" x2="463.00" y2="814.00" stroke="#050505" stroke-width="1.5"/>
<line x1="498.10" y1="816.50" x2="498.10" y2="814.00" stroke="#050505" stroke-width="1.5"/>
<text x="322.60" y="831.00" font-size="9.5" font-weight="bold" text-anchor="middle" fill="#000" stroke="#000" stroke-width="0.22">1</text>
<text x="357.70" y="831.00" font-size="9.5" font-weight="bold" text-anchor="middle" fill="#000" stroke="#000" stroke-width="0.22">1.2</text>
<text x="392.80" y="831.00" font-size="9.5" font-weight="bold" text-anchor="middle" fill="#000" stroke="#000" stroke-width="0.22">1.4</text>
<text x="427.90" y="831.00" font-size="9.5" font-weight="bold" text-anchor="middle" fill="#000" stroke="#000" stroke-width="0.22">1.6</text>
<text x="463.00" y="831.00" font-size="9.5" font-weight="bold" text-anchor="middle" fill="#000" stroke="#000" stroke-width="0.22">1.8</text>
<text x="498.10" y="831.00" font-size="9.5" font-weight="bold" text-anchor="middle" fill="#000" stroke="#000" stroke-width="0.22">2</text>
<circle cx="343.5" cy="723.4" r="2.7"/>
<circle cx="408.2" cy="700.0" r="2.7"/>
<circle cx="394.6" cy="712.8" r="2.7"/>
<circle cx="405.4" cy="710.0" r="2.7"/>
<circle cx="403.1" cy="713.4" r="2.7"/>
<circle cx="400.0" cy="720.0" r="2.7"/>
<circle cx="401.5" cy="722.6" r="2.7"/>
<circle cx="394.6" cy="726.6" r="2.7"/>
<circle cx="406.9" cy="730.0" r="2.7"/>
<circle cx="399.5" cy="735.8" r="2.7"/>
<circle cx="405.1" cy="739.2" r="2.7"/>
<circle cx="406.9" cy="745.4" r="2.7"/>
<circle cx="376.9" cy="747.4" r="2.7"/>
<circle cx="371.5" cy="752.8" r="2.7"/>
<circle cx="392.8" cy="751.1" r="2.7"/>
<circle cx="392.8" cy="761.5" r="2.7"/>
<circle cx="431.5" cy="697.2" r="2.7"/>
<circle cx="433.1" cy="708.8" r="2.7"/>
<circle cx="422.8" cy="713.4" r="2.7"/>
<circle cx="412.0" cy="719.2" r="2.7"/>
<circle cx="443.8" cy="717.4" r="2.7"/>
<circle cx="450.8" cy="718.5" r="2.7"/>
<circle cx="427.7" cy="723.8" r="2.7"/>
<circle cx="420.8" cy="725.1" r="2.7"/>
<circle cx="419.2" cy="727.7" r="2.7"/>
<circle cx="423.8" cy="732.3" r="2.7"/>
<circle cx="443.8" cy="730.8" r="2.7"/>
<circle cx="454.2" cy="732.8" r="2.7"/>
<circle cx="466.5" cy="736.2" r="2.7"/>
<circle cx="441.2" cy="734.6" r="2.7"/>
<circle cx="439.7" cy="737.7" r="2.7"/>
<circle cx="446.2" cy="736.9" r="2.7"/>
<circle cx="449.5" cy="739.0" r="2.7"/>
<circle cx="431.5" cy="740.8" r="2.7"/>
<circle cx="424.6" cy="738.9" r="2.7"/>
<circle cx="418.2" cy="743.1" r="2.7"/>
<circle cx="421.5" cy="743.8" r="2.7"/>
<circle cx="420.0" cy="746.2" r="2.7"/>
<circle cx="456.9" cy="740.0" r="2.7"/>
<circle cx="460.8" cy="740.0" r="2.7"/>
<circle cx="458.5" cy="743.1" r="2.7"/>
<circle cx="460.3" cy="743.8" r="2.7"/>
<circle cx="443.4" cy="743.8" r="2.7"/>
<circle cx="446.2" cy="746.2" r="2.7"/>
<circle cx="457.7" cy="745.4" r="2.7"/>
<circle cx="463.1" cy="748.2" r="2.7"/>
<circle cx="473.5" cy="746.9" r="2.7"/>
<circle cx="439.7" cy="749.2" r="2.7"/>
<circle cx="438.5" cy="751.5" r="2.7"/>
<circle cx="448.5" cy="749.2" r="2.7"/>
<circle cx="448.9" cy="751.5" r="2.7"/>
<circle cx="450.8" cy="754.6" r="2.7"/>
<circle cx="420.8" cy="754.9" r="2.7"/>
<circle cx="431.5" cy="755.4" r="2.7"/>
<circle cx="441.8" cy="760.0" r="2.7"/>
<circle cx="445.8" cy="760.5" r="2.7"/>
<circle cx="468.5" cy="758.0" r="2.7"/>
<circle cx="459.7" cy="762.6" r="2.7"/>
<circle cx="438.5" cy="766.2" r="2.7"/>
<circle cx="481.0" cy="752.9" r="2.7"/>
<circle cx="482.3" cy="757.3" r="2.7"/>
<circle cx="444.1" cy="771.5" r="2.7"/>
<circle cx="450.7" cy="770.3" r="2.7"/>
<circle cx="450.5" cy="779.8" r="2.7"/>
<circle cx="470.1" cy="773.7" r="2.7"/>
<circle cx="419.2" cy="771.8" r="2.7"/>
<circle cx="419.6" cy="775.2" r="2.7"/>
<circle cx="424.6" cy="777.7" r="2.7"/>
<circle cx="411.8" cy="778.4" r="2.7"/>
<circle cx="427.7" cy="783.3" r="2.7"/>
<circle cx="444.0" cy="731.0" r="2.7"/>
<circle cx="440.6" cy="735.6" r="2.7"/>
<circle cx="451.0" cy="738.5" r="2.7"/>
<circle cx="456.2" cy="739.6" r="2.7"/>
<circle cx="461.3" cy="739.6" r="2.7"/>
<circle cx="444.6" cy="744.2" r="2.7"/>
<circle cx="446.9" cy="747.1" r="2.7"/>
<circle cx="440.6" cy="750.0" r="2.7"/>
<circle cx="442.9" cy="760.4" r="2.7"/>
<circle cx="451.0" cy="769.4" r="2.7"/>
<circle cx="401.1" cy="735.8" r="2.7"/>
<line x1="343.50" y1="723.40" x2="479.80" y2="752.50" stroke="#050505" stroke-width="1.2"/>
<text x="334.9" y="658.1" font-size="11.9" fill="#000" word-spacing="1">Pearson <tspan font-style="italic">r</tspan> = - 0.355, <tspan font-style="italic">p</tspan>=<tspan>0.002</tspan></text>
<text x="409.80" y="845.40" font-size="10.3" font-weight="bold" text-anchor="middle" fill="#000" stroke="#000" stroke-width="0.22">Log RBP4(μg/ml)</text>
<text x="295.30" y="500.35" font-size="10" font-weight="bold" text-anchor="middle" fill="#000" stroke="#000" stroke-width="0.22" transform="rotate(-90 295.30 500.35)" textLength="101.5" lengthAdjust="spacing">Log PhiS (×10<tspan font-size="6.20" dy="-3.00">-9</tspan><tspan dy="3.00">/min)</tspan></text>
<text x="24.80" y="733.55" font-size="10" font-weight="bold" text-anchor="middle" fill="#000" stroke="#000" stroke-width="0.22" transform="rotate(-90 24.80 733.55)" textLength="78.3" lengthAdjust="spacing">Log PhiD (×10<tspan font-size="6.20" dy="-3.00">-9</tspan><tspan dy="3.00">)</tspan></text>
<text x="294.90" y="730.70" font-size="10" font-weight="bold" text-anchor="middle" fill="#000" stroke="#000" stroke-width="0.22" transform="rotate(-90 294.90 730.70)" textLength="98" lengthAdjust="spacing">Log PhiT (×10<tspan font-size="6.20" dy="-3.00">-9</tspan><tspan dy="3.00">/min)</tspan></text>
</g>
</svg>
</body></html>
